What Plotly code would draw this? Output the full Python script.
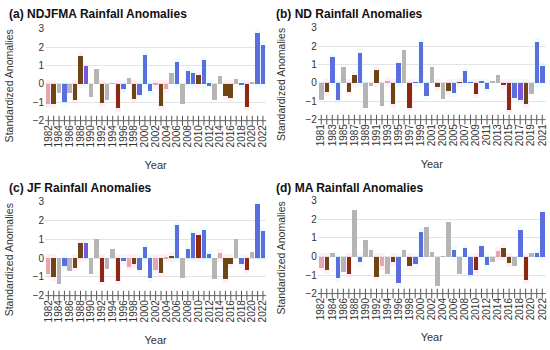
import plotly.graph_objects as go
from plotly.subplots import make_subplots

# ---------------- data ----------------
years_a = list(range(1982, 2023))
vals_a = [-1.1, -1.1, -0.5, -1.0, -0.5, -0.85, 1.55, 0.97, -0.7, 0.8,
          -1.05, -0.9, 0.02, -1.3, -0.3, 0.35, -0.8, -0.6, 1.6, -0.4,
          -0.05, -1.2, -0.3, 0.6, 1.2, -1.1, 0.7, 0.62, 0.48, 1.3,
          -0.1, -0.88, 0.45, -0.65, -0.78, 0.25, -0.05, -1.25, 0.12, 2.8, 2.15]
cls_a = ["P", "B", "G", "L", "G", "B", "B", "V", "G", "G",
         "B", "G", "G", "R", "L", "G", "B", "L", "L", "L",
         "P", "B", "P", "G", "L", "G", "L", "L", "B", "L",
         "L", "G", "G", "B", "B", "G", "L", "R", "G", "L", "L"]

years_b = list(range(1981, 2022))
vals_b = [-0.95, -0.5, 1.4, -0.95, 0.88, -0.5, 0.42, 1.65, -1.35, -0.15,
          0.7, -1.25, 0.1, -1.15, 1.1, 1.8, -1.35, 0.05, 2.25, -0.7,
          0.88, -0.22, -0.9, -0.45, -0.55, 0.05, 0.68, 0.03, -0.6, 0.08,
          -0.35, 0.12, 0.45, -0.12, -1.45, -0.8, -0.95, -1.15, -0.6, 2.25, 0.95]
cls_b = ["G", "B", "L", "L", "G", "B", "B", "L", "G", "G",
         "B", "G", "P", "B", "L", "G", "R", "V", "L", "L",
         "G", "B", "G", "B", "L", "B", "L", "L", "R", "L",
         "L", "G", "G", "B", "R", "L", "V", "B", "G", "L", "L"]

years_c = list(range(1982, 2023))
vals_c = [-0.85, -1.0, -1.4, -0.4, -0.7, -0.5, 0.8, 0.82, -0.85, 1.05,
          -1.25, -0.55, 0.5, -1.2, -0.15, -0.45, -0.3, -0.65, 0.62, -1.05,
          -0.65, -0.8, 0.02, 0.12, 1.75, -1.05, 0.48, 1.35, 1.25, 1.52,
          0.25, -1.1, 0.3, -1.1, -0.3, 1.0, -0.3, -0.65, 0.35, 2.9, 1.45]
cls_c = ["P", "B", "G", "L", "G", "B", "B", "V", "G", "G",
         "R", "G", "G", "R", "L", "P", "B", "L", "L", "L",
         "P", "B", "P", "B", "L", "G", "L", "L", "R", "L",
         "L", "G", "P", "B", "B", "G", "L", "R", "G", "L", "L"]

years_d = list(range(1982, 2023))
vals_d = [-0.6, -0.72, 0.2, -1.15, -0.85, -0.95, 2.5, -0.3, 0.88, 0.38,
          -1.08, -0.5, -0.95, -0.28, -1.4, 0.35, -0.5, -0.4, 1.35, 1.58,
          0.25, -1.6, 0.02, 1.85, 0.35, -0.92, 0.45, -1.0, -0.7, 0.55,
          -0.45, -0.3, 0.3, 0.48, -0.35, -0.5, 1.45, -1.25, 0.18, 0.22, 2.38]
cls_d = ["P", "B", "G", "L", "G", "R", "G", "L", "G", "G",
         "B", "P", "G", "B", "L", "G", "B", "L", "L", "G",
         "G", "G", "G", "G", "L", "G", "L", "L", "R", "L",
         "L", "G", "P", "B", "B", "G", "L", "R", "G", "L", "L"]

titles = ["(a) NDJFMA Rainfall Anomalies", "(b) ND Rainfall Anomalies",
          "(c) JF Rainfall Anomalies", "(d) MA Rainfall Anomalies"]
y_title = "Standardized Anomalies"
y_ticks = [-2, -1, 0, 1, 2, 3]

# ---------------- styling ----------------
bar_colors = {"R": "#8B2A10", "B": "#6E4514", "P": "#E6A4AC",
              "G": "#B5B5B5", "L": "#5B6EE0", "V": "#7A55E0"}
shade_colors = {"R": "rgba(255,200,230,0.3)", "B": "rgba(255,200,230,0.3)",
                "P": "rgba(255,200,230,0.3)", "L": "rgba(190,248,255,0.3)",
                "V": "rgba(190,248,255,0.3)"}
FONT = "Liberation Sans, Arial, sans-serif"

panels = [(years_a, vals_a, cls_a), (years_b, vals_b, cls_b),
          (years_c, vals_c, cls_c), (years_d, vals_d, cls_d)]

fig = make_subplots(rows=2, cols=2)

x_domains = [[0.082, 0.484], [0.578, 0.992], [0.082, 0.484], [0.578, 0.992]]
y_domains = [[0.651, 0.92], [0.654, 0.923], [0.151, 0.426], [0.157, 0.429]]
ytitle_x = [0.016, 0.51, 0.016, 0.51]

for i, (yrs, vals, cls) in enumerate(panels):
    r, c = i // 2 + 1, i % 2 + 1
    # background shading for ENSO years
    sx, sbase, sh, scol = [], [], [], []
    for yv, v, k in zip(yrs, vals, cls):
        if k in shade_colors:
            lo = min(v, 0) - 0.2
            hi = max(v, 0) + 0.2
            sx.append(yv); sbase.append(lo); sh.append(hi - lo); scol.append(shade_colors[k])
    fig.add_trace(go.Bar(x=sx, y=sh, base=sbase, width=1.0,
                         marker=dict(color=scol, line=dict(width=0)),
                         hoverinfo="skip", showlegend=False), row=r, col=c)
    fig.add_trace(go.Bar(x=yrs, y=vals, width=0.82,
                         marker=dict(color=[bar_colors[k] for k in cls], line=dict(width=0)),
                         showlegend=False), row=r, col=c)
    # cross tick marks along the bottom axis
    fig.add_trace(go.Scatter(x=yrs, y=[y_ticks[0]] * len(yrs), mode="markers",
                             marker=dict(symbol="line-ns", size=7,
                                         line=dict(color="#555555", width=1)),
                             hoverinfo="skip", showlegend=False, cliponaxis=False),
                  row=r, col=c)

    xa = "xaxis" if i == 0 else f"xaxis{i+1}"
    ya = "yaxis" if i == 0 else f"yaxis{i+1}"
    fig.layout[xa].update(
        domain=x_domains[i], range=[yrs[0] - 0.6, yrs[-1] + 0.6], automargin=False,
        tickmode="array", tickvals=yrs[::2], ticktext=[str(v) for v in yrs[::2]],
        tickangle=-90, tickfont=dict(size=10, color="#333333", family=FONT),
        ticks="", showgrid=False, zeroline=False, showline=False,
        title=dict(text="Year", font=dict(size=11, color="#333333", family=FONT), standoff=14),
    )
    fig.layout[ya].update(
        domain=y_domains[i], range=[-2.08, 3.05], tickvals=y_ticks, automargin=False,
        tickfont=dict(size=10, color="#333333", family=FONT),
        showgrid=True, gridcolor="#E4E4E4", gridwidth=1,
        zeroline=True, zerolinecolor="#E4E4E4", zerolinewidth=1,
        showline=False, ticks="",
    )
    fig.add_hline(y=y_ticks[0], line=dict(color="#666666", width=1), row=r, col=c)
    fig.add_annotation(text=y_title, textangle=-90, x=ytitle_x[i],
                       y=(y_domains[i][0] + y_domains[i][1]) / 2 - 0.03,
                       xref="paper", yref="paper", xanchor="center", yanchor="middle",
                       showarrow=False, font=dict(size=10.5, color="#333333", family=FONT))

title_pos = [(0.012, 0.985), (0.498, 0.985), (0.012, 0.49), (0.498, 0.49)]
for t, (tx, ty) in zip(titles, title_pos):
    fig.add_annotation(text="<b>" + t + "</b>", x=tx, y=ty, xref="paper", yref="paper",
                       xanchor="left", yanchor="top", showarrow=False,
                       font=dict(size=12, color="#111111", family=FONT))

fig.update_layout(width=550, height=350, margin=dict(l=0, r=0, t=0, b=0),
                  plot_bgcolor="white", paper_bgcolor="white",
                  barmode="overlay", bargap=0)

fig.write_html("out.html", config={"displayModeBar": False},
               post_script="document.body.style.margin='0';document.body.style.overflow='hidden';")
